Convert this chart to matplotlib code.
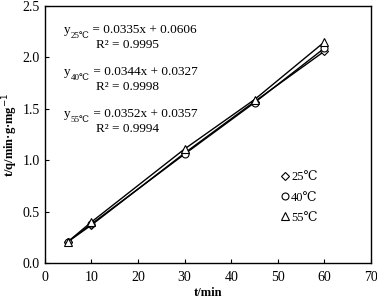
import matplotlib.pyplot as plt
import numpy as np

plt.rcParams['font.family'] = ['Liberation Serif', 'DejaVu Serif']

t = [5, 10, 30, 45, 60]

# t/q at each temperature
tq_25 = [0.21, 0.37, 1.07, 1.57, 2.06]
tq_40 = [0.21, 0.38, 1.06, 1.56, 2.09]
tq_55 = [0.21, 0.40, 1.11, 1.59, 2.15]

labels = ['25℃', '40℃', '55℃']
markers = ['D', 'o', '^']
msizes = [4, 5, 5.5]
eqs = ['0.0335x + 0.0606', '0.0344x + 0.0327', '0.0352x + 0.0357']
r2 = ['0.9995', '0.9998', '0.9994']

fig = plt.figure(figsize=(3.77, 3.0), dpi=100)
ax = fig.add_axes([0.119, 0.123, 0.865, 0.857])

for ys, m, ms, lab in zip([tq_25, tq_40, tq_55], markers, msizes, labels):
    ax.plot(t, ys, color='black', lw=1.0, marker=m, ms=ms,
            mfc='white', mec='black', mew=0.8, label=lab)

ax.set_xlim(0, 70)
ax.set_ylim(0, 2.5)
ax.set_xticks(np.arange(0, 71, 10))
ax.set_yticks(np.arange(0, 2.51, 0.5))
ax.yaxis.set_major_formatter(plt.FormatStrFormatter('%.1f'))
ax.tick_params(direction='in', length=3, labelsize=10, width=0.8)
ax.tick_params(axis='x', pad=6)
for s in ax.spines.values():
    s.set_linewidth(1.0)

ax.set_xlabel('t/min', fontsize=9, fontweight='bold', labelpad=2)
ax.set_ylabel('t/q/min·g·mg$^{-1}$', fontsize=9, fontweight='bold', labelpad=2)

eq_y = [0.895, 0.731, 0.568]
for lab, eq, r, yp in zip(labels, eqs, r2, eq_y):
    ty = ax.text(0.058, yp, 'y', transform=ax.transAxes, fontsize=9.5,
                 ha='left', va='baseline')
    ts = ax.annotate(lab, xy=(1, 0), xycoords=ty, xytext=(0, -1.5),
                     textcoords='offset points', fontsize=6.5,
                     ha='left', va='baseline')
    ax.annotate(' = ' + eq, xy=(1, 0), xycoords=(ts, ty), fontsize=9.5,
                ha='left', va='bottom')
    ax.text(0.158, yp - 0.059, 'R² = ' + r, transform=ax.transAxes,
            fontsize=9.5, ha='left', va='baseline')

leg = ax.legend(loc='center left', bbox_to_anchor=(0.69, 0.255), frameon=False,
                fontsize=9, handlelength=0.6, handletextpad=0.2, labelspacing=0.65)
for h in leg.legend_handles:
    h.set_linestyle('none')

fig.savefig('out.png', dpi=100)
